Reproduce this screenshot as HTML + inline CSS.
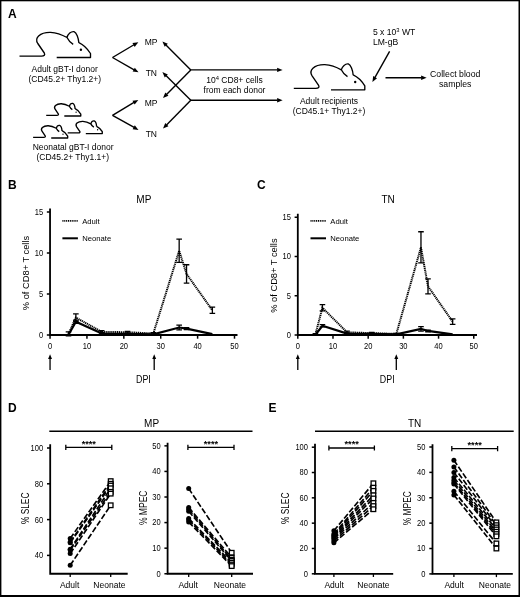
<!DOCTYPE html>
<html><head><meta charset="utf-8"><title>Figure</title>
<style>
html,body{margin:0;padding:0;background:#fff;}
body{width:520px;height:597px;overflow:hidden;}
svg{display:block;will-change:transform;font-family:"Liberation Sans",sans-serif;fill:#000;}
</style></head><body>
<svg width="520" height="597" viewBox="0 0 520 597">
<rect x="0" y="0" width="520" height="597" fill="#fff"/>

<rect x="0" y="0" width="520" height="1.3" fill="#000"/>
<rect x="0" y="0" width="1.4" height="597" fill="#000"/>
<rect x="518.5" y="0" width="1.5" height="597" fill="#000"/>
<rect x="0" y="595" width="520" height="2" fill="#000"/>
<text x="8.00" y="17.70" font-size="12.00" font-weight="bold">A</text>
<g transform="translate(19.50,56.10) scale(1.0000) translate(-19.5,-56.1)"><path d="M19.5,56.1 H41.5 C44.3,56.1 45.3,54.8 44.3,53 L37.8,43.5 C36.2,41 36.2,38.2 38.6,35.9 C41.5,33.3 46,32.3 50.5,32.4 C56,32.8 62,34.8 67,37.5 C68,34 71,31.2 74,31.6 C76.5,32.5 78.5,38 78.9,43 M67,37.5 C68.5,40.5 70.5,42.8 73.2,44.4 M78.9,42.6 C83,44.5 87,48 90.5,53.5 V57.5 H56.7" fill="none" stroke="#000" stroke-width="1.35" stroke-linejoin="round" stroke-linecap="butt"/><circle cx="80.9" cy="49.7" r="1.2" fill="#000"/></g>
<text x="64.70" y="72.00" font-size="8.50" text-anchor="middle">Adult gBT-I donor</text>
<text x="64.80" y="81.90" font-size="8.50" text-anchor="middle">(CD45.2+ Thy1.2+)</text>
<g transform="translate(46.20,115.30) scale(0.4870) translate(-19.5,-56.1)"><path d="M19.5,56.1 H41.5 C44.3,56.1 45.3,54.8 44.3,53 L37.8,43.5 C36.2,41 36.2,38.2 38.6,35.9 C41.5,33.3 46,32.3 50.5,32.4 C56,32.8 62,34.8 67,37.5 C68,34 71,31.2 74,31.6 C76.5,32.5 78.5,38 78.9,43 M67,37.5 C68.5,40.5 70.5,42.8 73.2,44.4 M78.9,42.6 C83,44.5 87,48 90.5,53.5 V57.5 H56.7" fill="none" stroke="#000" stroke-width="2.77" stroke-linejoin="round" stroke-linecap="butt"/><circle cx="80.9" cy="49.7" r="1.4" fill="#000"/></g>
<g transform="translate(33.10,137.30) scale(0.4870) translate(-19.5,-56.1)"><path d="M19.5,56.1 H41.5 C44.3,56.1 45.3,54.8 44.3,53 L37.8,43.5 C36.2,41 36.2,38.2 38.6,35.9 C41.5,33.3 46,32.3 50.5,32.4 C56,32.8 62,34.8 67,37.5 C68,34 71,31.2 74,31.6 C76.5,32.5 78.5,38 78.9,43 M67,37.5 C68.5,40.5 70.5,42.8 73.2,44.4 M78.9,42.6 C83,44.5 87,48 90.5,53.5 V57.5 H56.7" fill="none" stroke="#000" stroke-width="2.77" stroke-linejoin="round" stroke-linecap="butt"/><circle cx="80.9" cy="49.7" r="1.4" fill="#000"/></g>
<g transform="translate(67.70,132.90) scale(0.4870) translate(-19.5,-56.1)"><path d="M19.5,56.1 H41.5 C44.3,56.1 45.3,54.8 44.3,53 L37.8,43.5 C36.2,41 36.2,38.2 38.6,35.9 C41.5,33.3 46,32.3 50.5,32.4 C56,32.8 62,34.8 67,37.5 C68,34 71,31.2 74,31.6 C76.5,32.5 78.5,38 78.9,43 M67,37.5 C68.5,40.5 70.5,42.8 73.2,44.4 M78.9,42.6 C83,44.5 87,48 90.5,53.5 V57.5 H56.7" fill="none" stroke="#000" stroke-width="2.77" stroke-linejoin="round" stroke-linecap="butt"/><circle cx="80.9" cy="49.7" r="1.4" fill="#000"/></g>
<text x="73.10" y="150.00" font-size="8.50" text-anchor="middle">Neonatal gBT-I donor</text>
<text x="72.80" y="160.00" font-size="8.50" text-anchor="middle">(CD45.2+ Thy1.1+)</text>
<line x1="112.50" y1="57.50" x2="134.00" y2="44.75" stroke="#000" stroke-width="1.40"/><polygon points="138.30,42.20 134.69,46.90 132.45,43.11" fill="#000"/>
<line x1="112.50" y1="57.50" x2="134.15" y2="69.83" stroke="#000" stroke-width="1.40"/><polygon points="138.50,72.30 132.63,71.49 134.81,67.67" fill="#000"/>
<line x1="112.50" y1="115.30" x2="134.01" y2="102.46" stroke="#000" stroke-width="1.40"/><polygon points="138.30,99.90 134.70,104.61 132.45,100.83" fill="#000"/>
<line x1="112.50" y1="115.30" x2="134.14" y2="127.45" stroke="#000" stroke-width="1.40"/><polygon points="138.50,129.90 132.63,129.13 134.78,125.29" fill="#000"/>
<text x="151.00" y="45.20" font-size="8.50" text-anchor="middle">MP</text>
<text x="151.30" y="75.70" font-size="8.50" text-anchor="middle">TN</text>
<text x="151.00" y="105.60" font-size="8.50" text-anchor="middle">MP</text>
<text x="151.30" y="136.50" font-size="8.50" text-anchor="middle">TN</text>
<line x1="190.80" y1="69.90" x2="165.93" y2="44.94" stroke="#000" stroke-width="1.40"/><polygon points="162.40,41.40 167.84,43.74 164.72,46.85" fill="#000"/>
<line x1="190.80" y1="69.90" x2="166.52" y2="94.45" stroke="#000" stroke-width="1.40"/><polygon points="163.00,98.00 165.30,92.54 168.43,95.64" fill="#000"/>
<line x1="190.80" y1="100.30" x2="165.95" y2="75.62" stroke="#000" stroke-width="1.40"/><polygon points="162.40,72.10 167.85,74.41 164.75,77.54" fill="#000"/>
<line x1="190.80" y1="100.30" x2="166.51" y2="124.94" stroke="#000" stroke-width="1.40"/><polygon points="163.00,128.50 165.29,123.04 168.43,126.13" fill="#000"/>
<line x1="190.30" y1="69.90" x2="277.60" y2="69.90" stroke="#000" stroke-width="1.40"/><polygon points="282.60,69.90 277.10,72.10 277.10,67.70" fill="#000"/>
<line x1="190.30" y1="100.30" x2="277.60" y2="100.30" stroke="#000" stroke-width="1.40"/><polygon points="282.60,100.30 277.10,102.50 277.10,98.10" fill="#000"/>
<text x="234.50" y="83.20" font-size="8.50" text-anchor="middle">10<tspan font-size="5.8" dy="-3.2">4</tspan><tspan dy="3.2"> CD8+ cells</tspan></text>
<text x="234.50" y="93.40" font-size="8.50" text-anchor="middle">from each donor</text>
<g transform="translate(293.80,88.40) scale(1.0000) translate(-19.5,-56.1)"><path d="M19.5,56.1 H41.5 C44.3,56.1 45.3,54.8 44.3,53 L37.8,43.5 C36.2,41 36.2,38.2 38.6,35.9 C41.5,33.3 46,32.3 50.5,32.4 C56,32.8 62,34.8 67,37.5 C68,34 71,31.2 74,31.6 C76.5,32.5 78.5,38 78.9,43 M67,37.5 C68.5,40.5 70.5,42.8 73.2,44.4 M78.9,42.6 C83,44.5 87,48 90.5,53.5 V57.5 H56.7" fill="none" stroke="#000" stroke-width="1.35" stroke-linejoin="round" stroke-linecap="butt"/><circle cx="80.9" cy="49.7" r="1.2" fill="#000"/></g>
<text x="329.00" y="104.40" font-size="8.50" text-anchor="middle">Adult recipients</text>
<text x="329.00" y="114.40" font-size="8.50" text-anchor="middle">(CD45.1+ Thy1.2+)</text>
<text x="372.90" y="34.80" font-size="8.60">5 x 10<tspan font-size="5.8" dy="-3.2">3</tspan><tspan dy="3.2"> WT</tspan></text>
<text x="372.90" y="44.80" font-size="8.60">LM-gB</text>
<line x1="389.60" y1="51.40" x2="374.86" y2="77.54" stroke="#000" stroke-width="1.40"/><polygon points="372.40,81.90 373.19,76.03 377.02,78.19" fill="#000"/>
<line x1="385.50" y1="77.70" x2="421.60" y2="77.70" stroke="#000" stroke-width="1.40"/><polygon points="426.60,77.70 421.10,79.90 421.10,75.50" fill="#000"/>
<text x="455.20" y="76.50" font-size="8.70" text-anchor="middle">Collect blood</text>
<text x="455.20" y="86.50" font-size="8.70" text-anchor="middle">samples</text>
<text x="8.00" y="188.70" font-size="12.00" font-weight="bold">B</text>
<text x="143.80" y="202.90" font-size="10.00" text-anchor="middle">MP</text>
<path d="M50.05,208.60 V335.00 H237.50" fill="none" stroke="#000" stroke-width="1.8"/>
<line x1="46.85" y1="335.00" x2="50.05" y2="335.00" stroke="#000" stroke-width="1.5"/>
<text x="43.15" y="337.90" font-size="8.50" text-anchor="end" textLength="4.20" lengthAdjust="spacingAndGlyphs">0</text>
<line x1="46.85" y1="294.00" x2="50.05" y2="294.00" stroke="#000" stroke-width="1.5"/>
<text x="43.15" y="296.90" font-size="8.50" text-anchor="end" textLength="4.20" lengthAdjust="spacingAndGlyphs">5</text>
<line x1="46.85" y1="253.00" x2="50.05" y2="253.00" stroke="#000" stroke-width="1.5"/>
<text x="43.15" y="255.90" font-size="8.50" text-anchor="end" textLength="8.40" lengthAdjust="spacingAndGlyphs">10</text>
<line x1="46.85" y1="212.00" x2="50.05" y2="212.00" stroke="#000" stroke-width="1.5"/>
<text x="43.15" y="214.90" font-size="8.50" text-anchor="end" textLength="8.40" lengthAdjust="spacingAndGlyphs">15</text>
<line x1="50.05" y1="335.00" x2="50.05" y2="338.70" stroke="#000" stroke-width="1.5"/>
<text x="50.05" y="348.70" font-size="8.50" text-anchor="middle" textLength="4.20" lengthAdjust="spacingAndGlyphs">0</text>
<line x1="86.94" y1="335.00" x2="86.94" y2="338.70" stroke="#000" stroke-width="1.5"/>
<text x="86.94" y="348.70" font-size="8.50" text-anchor="middle" textLength="8.40" lengthAdjust="spacingAndGlyphs">10</text>
<line x1="123.83" y1="335.00" x2="123.83" y2="338.70" stroke="#000" stroke-width="1.5"/>
<text x="123.83" y="348.70" font-size="8.50" text-anchor="middle" textLength="8.40" lengthAdjust="spacingAndGlyphs">20</text>
<line x1="160.72" y1="335.00" x2="160.72" y2="338.70" stroke="#000" stroke-width="1.5"/>
<text x="160.72" y="348.70" font-size="8.50" text-anchor="middle" textLength="8.40" lengthAdjust="spacingAndGlyphs">30</text>
<line x1="197.61" y1="335.00" x2="197.61" y2="338.70" stroke="#000" stroke-width="1.5"/>
<text x="197.61" y="348.70" font-size="8.50" text-anchor="middle" textLength="8.40" lengthAdjust="spacingAndGlyphs">40</text>
<line x1="234.50" y1="335.00" x2="234.50" y2="338.70" stroke="#000" stroke-width="1.5"/>
<text x="234.50" y="348.70" font-size="8.50" text-anchor="middle" textLength="8.40" lengthAdjust="spacingAndGlyphs">50</text>
<text transform="translate(28.50,273.00) rotate(-90)" text-anchor="middle" font-size="9.90" textLength="74.30" lengthAdjust="spacingAndGlyphs">% of CD8+ T cells</text>
<line x1="62.40" y1="220.8" x2="77.90" y2="220.8" stroke="#000" stroke-width="1.8" stroke-dasharray="1.1,0.75"/>
<line x1="62.40" y1="238.3" x2="77.90" y2="238.3" stroke="#000" stroke-width="2.0"/>
<text x="82.20" y="223.50" font-size="7.70">Adult</text>
<text x="82.20" y="240.80" font-size="7.70">Neonate</text>
<polyline points="68.50,333.88 75.87,317.58 101.70,331.85 127.52,332.25 153.34,333.48 179.17,250.75 186.54,273.98 212.37,310.25" fill="none" stroke="#000" stroke-width="2.0" stroke-linejoin="miter" stroke-dasharray="1.2,0.7"/>
<path d="M68.50,331.85 V335.92 M65.70,331.85 H71.30 M65.70,335.92 H71.30" stroke="#000" stroke-width="1.3" fill="none"/>
<path d="M75.87,313.92 V321.25 M73.07,313.92 H78.67 M73.07,321.25 H78.67" stroke="#000" stroke-width="1.3" fill="none"/>
<path d="M101.70,330.62 V333.07 M98.90,330.62 H104.50 M98.90,333.07 H104.50" stroke="#000" stroke-width="1.3" fill="none"/>
<path d="M127.52,331.28 V333.23 M124.72,331.28 H130.32 M124.72,333.23 H130.32" stroke="#000" stroke-width="1.3" fill="none"/>
<path d="M153.34,332.66 V334.29 M150.54,332.66 H156.14 M150.54,334.29 H156.14" stroke="#000" stroke-width="1.3" fill="none"/>
<path d="M179.17,239.10 V262.41 M176.37,239.10 H181.97 M176.37,262.41 H181.97" stroke="#000" stroke-width="1.3" fill="none"/>
<path d="M186.54,264.77 V283.19 M183.74,264.77 H189.34 M183.74,283.19 H189.34" stroke="#000" stroke-width="1.3" fill="none"/>
<path d="M212.37,307.15 V313.35 M209.57,307.15 H215.17 M209.57,313.35 H215.17" stroke="#000" stroke-width="1.3" fill="none"/>
<polyline points="68.50,334.70 75.87,321.66 101.70,333.48 127.52,333.88 153.34,334.29 179.17,327.53 186.54,328.59 212.37,334.05" fill="none" stroke="#000" stroke-width="2.2" stroke-linejoin="miter"/>
<path d="M75.87,320.03 V323.29 M73.07,320.03 H78.67 M73.07,323.29 H78.67" stroke="#000" stroke-width="1.3" fill="none"/>
<path d="M101.70,332.66 V334.29 M98.90,332.66 H104.50 M98.90,334.29 H104.50" stroke="#000" stroke-width="1.3" fill="none"/>
<path d="M127.52,333.23 V334.54 M124.72,333.23 H130.32 M124.72,334.54 H130.32" stroke="#000" stroke-width="1.3" fill="none"/>
<path d="M179.17,325.08 V329.97 M176.37,325.08 H181.97 M176.37,329.97 H181.97" stroke="#000" stroke-width="1.3" fill="none"/>
<path d="M186.54,327.61 V329.57 M183.74,327.61 H189.34 M183.74,329.57 H189.34" stroke="#000" stroke-width="1.3" fill="none"/>
<line x1="50.05" y1="369.90" x2="50.05" y2="358.50" stroke="#000" stroke-width="1.30"/><polygon points="50.05,354.20 52.00,359.00 48.10,359.00" fill="#000"/>
<line x1="154.20" y1="369.90" x2="154.20" y2="358.50" stroke="#000" stroke-width="1.30"/><polygon points="154.20,354.20 156.15,359.00 152.25,359.00" fill="#000"/>
<text x="143.40" y="382.70" font-size="10.00" text-anchor="middle" textLength="14.80" lengthAdjust="spacingAndGlyphs">DPI</text>
<text x="257.00" y="188.70" font-size="12.00" font-weight="bold">C</text>
<text x="388.10" y="202.90" font-size="10.00" text-anchor="middle">TN</text>
<path d="M297.80,213.80 V335.00 H477.00" fill="none" stroke="#000" stroke-width="1.8"/>
<line x1="294.60" y1="335.00" x2="297.80" y2="335.00" stroke="#000" stroke-width="1.5"/>
<text x="290.90" y="337.90" font-size="8.50" text-anchor="end" textLength="4.20" lengthAdjust="spacingAndGlyphs">0</text>
<line x1="294.60" y1="295.75" x2="297.80" y2="295.75" stroke="#000" stroke-width="1.5"/>
<text x="290.90" y="298.65" font-size="8.50" text-anchor="end" textLength="4.20" lengthAdjust="spacingAndGlyphs">5</text>
<line x1="294.60" y1="256.50" x2="297.80" y2="256.50" stroke="#000" stroke-width="1.5"/>
<text x="290.90" y="259.40" font-size="8.50" text-anchor="end" textLength="8.40" lengthAdjust="spacingAndGlyphs">10</text>
<line x1="294.60" y1="217.25" x2="297.80" y2="217.25" stroke="#000" stroke-width="1.5"/>
<text x="290.90" y="220.15" font-size="8.50" text-anchor="end" textLength="8.40" lengthAdjust="spacingAndGlyphs">15</text>
<line x1="297.80" y1="335.00" x2="297.80" y2="338.70" stroke="#000" stroke-width="1.5"/>
<text x="297.80" y="348.70" font-size="8.50" text-anchor="middle" textLength="4.20" lengthAdjust="spacingAndGlyphs">0</text>
<line x1="332.99" y1="335.00" x2="332.99" y2="338.70" stroke="#000" stroke-width="1.5"/>
<text x="332.99" y="348.70" font-size="8.50" text-anchor="middle" textLength="8.40" lengthAdjust="spacingAndGlyphs">10</text>
<line x1="368.18" y1="335.00" x2="368.18" y2="338.70" stroke="#000" stroke-width="1.5"/>
<text x="368.18" y="348.70" font-size="8.50" text-anchor="middle" textLength="8.40" lengthAdjust="spacingAndGlyphs">20</text>
<line x1="403.37" y1="335.00" x2="403.37" y2="338.70" stroke="#000" stroke-width="1.5"/>
<text x="403.37" y="348.70" font-size="8.50" text-anchor="middle" textLength="8.40" lengthAdjust="spacingAndGlyphs">30</text>
<line x1="438.56" y1="335.00" x2="438.56" y2="338.70" stroke="#000" stroke-width="1.5"/>
<text x="438.56" y="348.70" font-size="8.50" text-anchor="middle" textLength="8.40" lengthAdjust="spacingAndGlyphs">40</text>
<line x1="473.75" y1="335.00" x2="473.75" y2="338.70" stroke="#000" stroke-width="1.5"/>
<text x="473.75" y="348.70" font-size="8.50" text-anchor="middle" textLength="8.40" lengthAdjust="spacingAndGlyphs">50</text>
<text transform="translate(276.80,275.60) rotate(-90)" text-anchor="middle" font-size="9.90" textLength="74.30" lengthAdjust="spacingAndGlyphs">% of CD8+ T cells</text>
<line x1="310.50" y1="220.8" x2="326.00" y2="220.8" stroke="#000" stroke-width="1.8" stroke-dasharray="1.1,0.75"/>
<line x1="310.50" y1="238.3" x2="326.00" y2="238.3" stroke="#000" stroke-width="2.0"/>
<text x="330.30" y="223.50" font-size="7.70">Adult</text>
<text x="330.30" y="240.80" font-size="7.70">Neonate</text>
<polyline points="315.39,334.31 322.43,307.79 347.07,332.36 371.70,333.14 396.33,333.92 420.97,247.34 428.00,286.34 452.64,321.67" fill="none" stroke="#000" stroke-width="2.0" stroke-linejoin="miter" stroke-dasharray="1.2,0.7"/>
<path d="M315.39,333.53 V335.09 M312.59,333.53 H318.19 M312.59,335.09 H318.19" stroke="#000" stroke-width="1.3" fill="none"/>
<path d="M322.43,304.67 V310.91 M319.63,304.67 H325.23 M319.63,310.91 H325.23" stroke="#000" stroke-width="1.3" fill="none"/>
<path d="M347.07,331.19 V333.53 M344.27,331.19 H349.87 M344.27,333.53 H349.87" stroke="#000" stroke-width="1.3" fill="none"/>
<path d="M371.70,332.36 V333.92 M368.90,332.36 H374.50 M368.90,333.92 H374.50" stroke="#000" stroke-width="1.3" fill="none"/>
<path d="M396.33,333.30 V334.54 M393.53,333.30 H399.13 M393.53,334.54 H399.13" stroke="#000" stroke-width="1.3" fill="none"/>
<path d="M420.97,231.74 V262.94 M418.17,231.74 H423.77 M418.17,262.94 H423.77" stroke="#000" stroke-width="1.3" fill="none"/>
<path d="M428.00,278.85 V293.83 M425.20,278.85 H430.80 M425.20,293.83 H430.80" stroke="#000" stroke-width="1.3" fill="none"/>
<path d="M452.64,318.94 V324.40 M449.84,318.94 H455.44 M449.84,324.40 H455.44" stroke="#000" stroke-width="1.3" fill="none"/>
<polyline points="315.39,334.70 322.43,325.73 347.07,333.53 371.70,333.92 396.33,334.31 420.97,328.85 428.00,330.96 452.64,334.31" fill="none" stroke="#000" stroke-width="2.2" stroke-linejoin="miter"/>
<path d="M322.43,324.56 V326.90 M319.63,324.56 H325.23 M319.63,326.90 H325.23" stroke="#000" stroke-width="1.3" fill="none"/>
<path d="M347.07,332.91 V334.15 M344.27,332.91 H349.87 M344.27,334.15 H349.87" stroke="#000" stroke-width="1.3" fill="none"/>
<path d="M371.70,333.45 V334.39 M368.90,333.45 H374.50 M368.90,334.39 H374.50" stroke="#000" stroke-width="1.3" fill="none"/>
<path d="M420.97,326.67 V331.03 M418.17,326.67 H423.77 M418.17,331.03 H423.77" stroke="#000" stroke-width="1.3" fill="none"/>
<path d="M428.00,330.18 V331.74 M425.20,330.18 H430.80 M425.20,331.74 H430.80" stroke="#000" stroke-width="1.3" fill="none"/>
<line x1="297.80" y1="369.90" x2="297.80" y2="358.50" stroke="#000" stroke-width="1.30"/><polygon points="297.80,354.20 299.75,359.00 295.85,359.00" fill="#000"/>
<line x1="396.30" y1="369.90" x2="396.30" y2="358.50" stroke="#000" stroke-width="1.30"/><polygon points="396.30,354.20 398.25,359.00 394.35,359.00" fill="#000"/>
<text x="387.20" y="382.70" font-size="10.00" text-anchor="middle" textLength="14.80" lengthAdjust="spacingAndGlyphs">DPI</text>
<text x="8.00" y="411.90" font-size="12.00" font-weight="bold">D</text>
<line x1="49.3" y1="431.2" x2="252.5" y2="431.2" stroke="#000" stroke-width="1.4"/>
<text x="151.60" y="426.80" font-size="10.00" text-anchor="middle">MP</text>
<path d="M50.20,444.30 V573.75 H127.70" fill="none" stroke="#000" stroke-width="1.8"/>
<line x1="47.00" y1="555.40" x2="50.20" y2="555.40" stroke="#000" stroke-width="1.5"/>
<text x="43.20" y="558.30" font-size="8.50" text-anchor="end" textLength="8.40" lengthAdjust="spacingAndGlyphs">40</text>
<line x1="47.00" y1="519.60" x2="50.20" y2="519.60" stroke="#000" stroke-width="1.5"/>
<text x="43.20" y="522.50" font-size="8.50" text-anchor="end" textLength="8.40" lengthAdjust="spacingAndGlyphs">60</text>
<line x1="47.00" y1="483.80" x2="50.20" y2="483.80" stroke="#000" stroke-width="1.5"/>
<text x="43.20" y="486.70" font-size="8.50" text-anchor="end" textLength="8.40" lengthAdjust="spacingAndGlyphs">80</text>
<line x1="47.00" y1="448.00" x2="50.20" y2="448.00" stroke="#000" stroke-width="1.5"/>
<text x="43.20" y="450.90" font-size="8.50" text-anchor="end" textLength="12.60" lengthAdjust="spacingAndGlyphs">100</text>
<line x1="70.20" y1="573.75" x2="70.20" y2="576.95" stroke="#000" stroke-width="1.3"/>
<line x1="110.70" y1="573.75" x2="110.70" y2="576.95" stroke="#000" stroke-width="1.3"/>
<text x="69.60" y="587.80" font-size="8.50" text-anchor="middle">Adult</text>
<text x="109.40" y="587.80" font-size="8.50" text-anchor="middle">Neonate</text>
<text transform="translate(28.80,508.30) rotate(-90)" text-anchor="middle" font-size="10.00" textLength="31.40" lengthAdjust="spacingAndGlyphs">% SLEC</text>
<path d="M65.80,447.30 H111.80 M65.80,444.70 V449.90 M111.80,444.70 V449.90" stroke="#000" stroke-width="1.3" fill="none"/>
<text x="88.80" y="446.50" font-size="9.20" text-anchor="middle" font-weight="bold">****</text>
<line x1="70.20" y1="538.40" x2="110.70" y2="481.12" stroke="#000" stroke-width="1.65" stroke-dasharray="5.8,2.2"/>
<line x1="70.20" y1="541.98" x2="110.70" y2="483.80" stroke="#000" stroke-width="1.65" stroke-dasharray="5.8,2.2"/>
<line x1="70.20" y1="542.87" x2="110.70" y2="485.59" stroke="#000" stroke-width="1.65" stroke-dasharray="5.8,2.2"/>
<line x1="70.20" y1="549.14" x2="110.70" y2="488.28" stroke="#000" stroke-width="1.65" stroke-dasharray="5.8,2.2"/>
<line x1="70.20" y1="550.03" x2="110.70" y2="491.86" stroke="#000" stroke-width="1.65" stroke-dasharray="5.8,2.2"/>
<line x1="70.20" y1="553.61" x2="110.70" y2="493.65" stroke="#000" stroke-width="1.65" stroke-dasharray="5.8,2.2"/>
<line x1="70.20" y1="565.25" x2="110.70" y2="505.28" stroke="#000" stroke-width="1.65" stroke-dasharray="5.8,2.2"/>
<circle cx="70.20" cy="538.40" r="2.5" fill="#000"/>
<circle cx="70.20" cy="541.98" r="2.5" fill="#000"/>
<circle cx="70.20" cy="542.87" r="2.5" fill="#000"/>
<circle cx="70.20" cy="549.14" r="2.5" fill="#000"/>
<circle cx="70.20" cy="550.03" r="2.5" fill="#000"/>
<circle cx="70.20" cy="553.61" r="2.5" fill="#000"/>
<circle cx="70.20" cy="565.25" r="2.5" fill="#000"/>
<rect x="108.40" y="478.82" width="4.6" height="4.6" fill="#fff" stroke="#000" stroke-width="1.3"/>
<rect x="108.40" y="481.50" width="4.6" height="4.6" fill="#fff" stroke="#000" stroke-width="1.3"/>
<rect x="108.40" y="483.29" width="4.6" height="4.6" fill="#fff" stroke="#000" stroke-width="1.3"/>
<rect x="108.40" y="485.98" width="4.6" height="4.6" fill="#fff" stroke="#000" stroke-width="1.3"/>
<rect x="108.40" y="489.56" width="4.6" height="4.6" fill="#fff" stroke="#000" stroke-width="1.3"/>
<rect x="108.40" y="491.35" width="4.6" height="4.6" fill="#fff" stroke="#000" stroke-width="1.3"/>
<rect x="108.40" y="502.98" width="4.6" height="4.6" fill="#fff" stroke="#000" stroke-width="1.3"/>
<path d="M167.60,442.80 V573.75 H253.00" fill="none" stroke="#000" stroke-width="1.8"/>
<line x1="164.40" y1="573.75" x2="167.60" y2="573.75" stroke="#000" stroke-width="1.5"/>
<text x="160.60" y="576.65" font-size="8.50" text-anchor="end" textLength="4.20" lengthAdjust="spacingAndGlyphs">0</text>
<line x1="164.40" y1="548.17" x2="167.60" y2="548.17" stroke="#000" stroke-width="1.5"/>
<text x="160.60" y="551.07" font-size="8.50" text-anchor="end" textLength="8.40" lengthAdjust="spacingAndGlyphs">10</text>
<line x1="164.40" y1="522.59" x2="167.60" y2="522.59" stroke="#000" stroke-width="1.5"/>
<text x="160.60" y="525.49" font-size="8.50" text-anchor="end" textLength="8.40" lengthAdjust="spacingAndGlyphs">20</text>
<line x1="164.40" y1="497.01" x2="167.60" y2="497.01" stroke="#000" stroke-width="1.5"/>
<text x="160.60" y="499.91" font-size="8.50" text-anchor="end" textLength="8.40" lengthAdjust="spacingAndGlyphs">30</text>
<line x1="164.40" y1="471.43" x2="167.60" y2="471.43" stroke="#000" stroke-width="1.5"/>
<text x="160.60" y="474.33" font-size="8.50" text-anchor="end" textLength="8.40" lengthAdjust="spacingAndGlyphs">40</text>
<line x1="164.40" y1="445.85" x2="167.60" y2="445.85" stroke="#000" stroke-width="1.5"/>
<text x="160.60" y="448.75" font-size="8.50" text-anchor="end" textLength="8.40" lengthAdjust="spacingAndGlyphs">50</text>
<line x1="188.70" y1="573.75" x2="188.70" y2="576.95" stroke="#000" stroke-width="1.3"/>
<line x1="231.70" y1="573.75" x2="231.70" y2="576.95" stroke="#000" stroke-width="1.3"/>
<text x="188.10" y="587.80" font-size="8.50" text-anchor="middle">Adult</text>
<text x="229.90" y="587.80" font-size="8.50" text-anchor="middle">Neonate</text>
<text transform="translate(147.00,507.80) rotate(-90)" text-anchor="middle" font-size="10.00" textLength="34.60" lengthAdjust="spacingAndGlyphs">% MPEC</text>
<path d="M187.90,447.30 H234.00 M187.90,444.70 V449.90 M234.00,444.70 V449.90" stroke="#000" stroke-width="1.3" fill="none"/>
<text x="210.95" y="446.50" font-size="9.20" text-anchor="middle" font-weight="bold">****</text>
<line x1="188.70" y1="488.57" x2="231.70" y2="552.77" stroke="#000" stroke-width="1.65" stroke-dasharray="5.8,2.2"/>
<line x1="188.70" y1="507.50" x2="231.70" y2="557.63" stroke="#000" stroke-width="1.65" stroke-dasharray="5.8,2.2"/>
<line x1="188.70" y1="509.29" x2="231.70" y2="559.68" stroke="#000" stroke-width="1.65" stroke-dasharray="5.8,2.2"/>
<line x1="188.70" y1="511.33" x2="231.70" y2="560.96" stroke="#000" stroke-width="1.65" stroke-dasharray="5.8,2.2"/>
<line x1="188.70" y1="518.50" x2="231.70" y2="562.75" stroke="#000" stroke-width="1.65" stroke-dasharray="5.8,2.2"/>
<line x1="188.70" y1="520.03" x2="231.70" y2="564.54" stroke="#000" stroke-width="1.65" stroke-dasharray="5.8,2.2"/>
<line x1="188.70" y1="522.08" x2="231.70" y2="566.08" stroke="#000" stroke-width="1.65" stroke-dasharray="5.8,2.2"/>
<circle cx="188.70" cy="488.57" r="2.5" fill="#000"/>
<circle cx="188.70" cy="507.50" r="2.5" fill="#000"/>
<circle cx="188.70" cy="509.29" r="2.5" fill="#000"/>
<circle cx="188.70" cy="511.33" r="2.5" fill="#000"/>
<circle cx="188.70" cy="518.50" r="2.5" fill="#000"/>
<circle cx="188.70" cy="520.03" r="2.5" fill="#000"/>
<circle cx="188.70" cy="522.08" r="2.5" fill="#000"/>
<rect x="229.40" y="550.47" width="4.6" height="4.6" fill="#fff" stroke="#000" stroke-width="1.3"/>
<rect x="229.40" y="555.33" width="4.6" height="4.6" fill="#fff" stroke="#000" stroke-width="1.3"/>
<rect x="229.40" y="557.38" width="4.6" height="4.6" fill="#fff" stroke="#000" stroke-width="1.3"/>
<rect x="229.40" y="558.66" width="4.6" height="4.6" fill="#fff" stroke="#000" stroke-width="1.3"/>
<rect x="229.40" y="560.45" width="4.6" height="4.6" fill="#fff" stroke="#000" stroke-width="1.3"/>
<rect x="229.40" y="562.24" width="4.6" height="4.6" fill="#fff" stroke="#000" stroke-width="1.3"/>
<rect x="229.40" y="563.78" width="4.6" height="4.6" fill="#fff" stroke="#000" stroke-width="1.3"/>
<text x="268.60" y="411.90" font-size="12.00" font-weight="bold">E</text>
<line x1="315" y1="431.2" x2="513.7" y2="431.2" stroke="#000" stroke-width="1.4"/>
<text x="414.60" y="426.80" font-size="10.00" text-anchor="middle">TN</text>
<path d="M315.00,443.70 V573.80 H393.20" fill="none" stroke="#000" stroke-width="1.8"/>
<line x1="311.80" y1="573.80" x2="315.00" y2="573.80" stroke="#000" stroke-width="1.5"/>
<text x="308.00" y="576.70" font-size="8.50" text-anchor="end" textLength="4.20" lengthAdjust="spacingAndGlyphs">0</text>
<line x1="311.80" y1="548.48" x2="315.00" y2="548.48" stroke="#000" stroke-width="1.5"/>
<text x="308.00" y="551.38" font-size="8.50" text-anchor="end" textLength="8.40" lengthAdjust="spacingAndGlyphs">20</text>
<line x1="311.80" y1="523.16" x2="315.00" y2="523.16" stroke="#000" stroke-width="1.5"/>
<text x="308.00" y="526.06" font-size="8.50" text-anchor="end" textLength="8.40" lengthAdjust="spacingAndGlyphs">40</text>
<line x1="311.80" y1="497.84" x2="315.00" y2="497.84" stroke="#000" stroke-width="1.5"/>
<text x="308.00" y="500.74" font-size="8.50" text-anchor="end" textLength="8.40" lengthAdjust="spacingAndGlyphs">60</text>
<line x1="311.80" y1="472.52" x2="315.00" y2="472.52" stroke="#000" stroke-width="1.5"/>
<text x="308.00" y="475.42" font-size="8.50" text-anchor="end" textLength="8.40" lengthAdjust="spacingAndGlyphs">80</text>
<line x1="311.80" y1="447.20" x2="315.00" y2="447.20" stroke="#000" stroke-width="1.5"/>
<text x="308.00" y="450.10" font-size="8.50" text-anchor="end" textLength="12.60" lengthAdjust="spacingAndGlyphs">100</text>
<line x1="333.90" y1="573.80" x2="333.90" y2="577.00" stroke="#000" stroke-width="1.3"/>
<line x1="373.40" y1="573.80" x2="373.40" y2="577.00" stroke="#000" stroke-width="1.3"/>
<text x="334.10" y="587.80" font-size="8.50" text-anchor="middle">Adult</text>
<text x="373.40" y="587.80" font-size="8.50" text-anchor="middle">Neonate</text>
<text transform="translate(288.80,508.30) rotate(-90)" text-anchor="middle" font-size="10.00" textLength="31.40" lengthAdjust="spacingAndGlyphs">% SLEC</text>
<path d="M328.90,448.00 H374.40 M328.90,445.40 V450.60 M374.40,445.40 V450.60" stroke="#000" stroke-width="1.3" fill="none"/>
<text x="351.65" y="447.20" font-size="9.20" text-anchor="middle" font-weight="bold">****</text>
<line x1="333.90" y1="530.76" x2="373.40" y2="483.28" stroke="#000" stroke-width="1.65" stroke-dasharray="5.8,2.2"/>
<line x1="333.90" y1="533.92" x2="373.40" y2="487.71" stroke="#000" stroke-width="1.65" stroke-dasharray="5.8,2.2"/>
<line x1="333.90" y1="535.19" x2="373.40" y2="490.88" stroke="#000" stroke-width="1.65" stroke-dasharray="5.8,2.2"/>
<line x1="333.90" y1="536.45" x2="373.40" y2="495.31" stroke="#000" stroke-width="1.65" stroke-dasharray="5.8,2.2"/>
<line x1="333.90" y1="537.72" x2="373.40" y2="498.47" stroke="#000" stroke-width="1.65" stroke-dasharray="5.8,2.2"/>
<line x1="333.90" y1="538.98" x2="373.40" y2="502.90" stroke="#000" stroke-width="1.65" stroke-dasharray="5.8,2.2"/>
<line x1="333.90" y1="540.88" x2="373.40" y2="506.07" stroke="#000" stroke-width="1.65" stroke-dasharray="5.8,2.2"/>
<line x1="333.90" y1="542.78" x2="373.40" y2="509.23" stroke="#000" stroke-width="1.65" stroke-dasharray="5.8,2.2"/>
<circle cx="333.90" cy="530.76" r="2.5" fill="#000"/>
<circle cx="333.90" cy="533.92" r="2.5" fill="#000"/>
<circle cx="333.90" cy="535.19" r="2.5" fill="#000"/>
<circle cx="333.90" cy="536.45" r="2.5" fill="#000"/>
<circle cx="333.90" cy="537.72" r="2.5" fill="#000"/>
<circle cx="333.90" cy="538.98" r="2.5" fill="#000"/>
<circle cx="333.90" cy="540.88" r="2.5" fill="#000"/>
<circle cx="333.90" cy="542.78" r="2.5" fill="#000"/>
<rect x="371.10" y="480.98" width="4.6" height="4.6" fill="#fff" stroke="#000" stroke-width="1.3"/>
<rect x="371.10" y="485.41" width="4.6" height="4.6" fill="#fff" stroke="#000" stroke-width="1.3"/>
<rect x="371.10" y="488.58" width="4.6" height="4.6" fill="#fff" stroke="#000" stroke-width="1.3"/>
<rect x="371.10" y="493.01" width="4.6" height="4.6" fill="#fff" stroke="#000" stroke-width="1.3"/>
<rect x="371.10" y="496.17" width="4.6" height="4.6" fill="#fff" stroke="#000" stroke-width="1.3"/>
<rect x="371.10" y="500.60" width="4.6" height="4.6" fill="#fff" stroke="#000" stroke-width="1.3"/>
<rect x="371.10" y="503.77" width="4.6" height="4.6" fill="#fff" stroke="#000" stroke-width="1.3"/>
<rect x="371.10" y="506.93" width="4.6" height="4.6" fill="#fff" stroke="#000" stroke-width="1.3"/>
<path d="M432.50,444.30 V573.90 H512.80" fill="none" stroke="#000" stroke-width="1.8"/>
<line x1="429.30" y1="573.90" x2="432.50" y2="573.90" stroke="#000" stroke-width="1.5"/>
<text x="425.50" y="576.80" font-size="8.50" text-anchor="end" textLength="4.20" lengthAdjust="spacingAndGlyphs">0</text>
<line x1="429.30" y1="548.52" x2="432.50" y2="548.52" stroke="#000" stroke-width="1.5"/>
<text x="425.50" y="551.42" font-size="8.50" text-anchor="end" textLength="8.40" lengthAdjust="spacingAndGlyphs">10</text>
<line x1="429.30" y1="523.14" x2="432.50" y2="523.14" stroke="#000" stroke-width="1.5"/>
<text x="425.50" y="526.04" font-size="8.50" text-anchor="end" textLength="8.40" lengthAdjust="spacingAndGlyphs">20</text>
<line x1="429.30" y1="497.76" x2="432.50" y2="497.76" stroke="#000" stroke-width="1.5"/>
<text x="425.50" y="500.66" font-size="8.50" text-anchor="end" textLength="8.40" lengthAdjust="spacingAndGlyphs">30</text>
<line x1="429.30" y1="472.38" x2="432.50" y2="472.38" stroke="#000" stroke-width="1.5"/>
<text x="425.50" y="475.28" font-size="8.50" text-anchor="end" textLength="8.40" lengthAdjust="spacingAndGlyphs">40</text>
<line x1="429.30" y1="447.00" x2="432.50" y2="447.00" stroke="#000" stroke-width="1.5"/>
<text x="425.50" y="449.90" font-size="8.50" text-anchor="end" textLength="8.40" lengthAdjust="spacingAndGlyphs">50</text>
<line x1="453.90" y1="573.90" x2="453.90" y2="577.10" stroke="#000" stroke-width="1.3"/>
<line x1="496.40" y1="573.90" x2="496.40" y2="577.10" stroke="#000" stroke-width="1.3"/>
<text x="454.10" y="587.80" font-size="8.50" text-anchor="middle">Adult</text>
<text x="494.90" y="587.80" font-size="8.50" text-anchor="middle">Neonate</text>
<text transform="translate(411.10,508.20) rotate(-90)" text-anchor="middle" font-size="10.00" textLength="34.20" lengthAdjust="spacingAndGlyphs">% MPEC</text>
<path d="M451.80,448.60 H497.60 M451.80,446.00 V451.20 M497.60,446.00 V451.20" stroke="#000" stroke-width="1.3" fill="none"/>
<text x="474.70" y="447.80" font-size="9.20" text-anchor="middle" font-weight="bold">****</text>
<line x1="453.90" y1="460.20" x2="496.40" y2="522.38" stroke="#000" stroke-width="1.65" stroke-dasharray="5.8,2.2"/>
<line x1="453.90" y1="467.05" x2="496.40" y2="525.17" stroke="#000" stroke-width="1.65" stroke-dasharray="5.8,2.2"/>
<line x1="453.90" y1="472.38" x2="496.40" y2="527.45" stroke="#000" stroke-width="1.65" stroke-dasharray="5.8,2.2"/>
<line x1="453.90" y1="477.46" x2="496.40" y2="529.49" stroke="#000" stroke-width="1.65" stroke-dasharray="5.8,2.2"/>
<line x1="453.90" y1="480.25" x2="496.40" y2="531.77" stroke="#000" stroke-width="1.65" stroke-dasharray="5.8,2.2"/>
<line x1="453.90" y1="482.53" x2="496.40" y2="534.05" stroke="#000" stroke-width="1.65" stroke-dasharray="5.8,2.2"/>
<line x1="453.90" y1="484.05" x2="496.40" y2="536.34" stroke="#000" stroke-width="1.65" stroke-dasharray="5.8,2.2"/>
<line x1="453.90" y1="491.16" x2="496.40" y2="543.44" stroke="#000" stroke-width="1.65" stroke-dasharray="5.8,2.2"/>
<line x1="453.90" y1="494.97" x2="496.40" y2="548.52" stroke="#000" stroke-width="1.65" stroke-dasharray="5.8,2.2"/>
<circle cx="453.90" cy="460.20" r="2.5" fill="#000"/>
<circle cx="453.90" cy="467.05" r="2.5" fill="#000"/>
<circle cx="453.90" cy="472.38" r="2.5" fill="#000"/>
<circle cx="453.90" cy="477.46" r="2.5" fill="#000"/>
<circle cx="453.90" cy="480.25" r="2.5" fill="#000"/>
<circle cx="453.90" cy="482.53" r="2.5" fill="#000"/>
<circle cx="453.90" cy="484.05" r="2.5" fill="#000"/>
<circle cx="453.90" cy="491.16" r="2.5" fill="#000"/>
<circle cx="453.90" cy="494.97" r="2.5" fill="#000"/>
<rect x="494.10" y="520.08" width="4.6" height="4.6" fill="#fff" stroke="#000" stroke-width="1.3"/>
<rect x="494.10" y="522.87" width="4.6" height="4.6" fill="#fff" stroke="#000" stroke-width="1.3"/>
<rect x="494.10" y="525.15" width="4.6" height="4.6" fill="#fff" stroke="#000" stroke-width="1.3"/>
<rect x="494.10" y="527.19" width="4.6" height="4.6" fill="#fff" stroke="#000" stroke-width="1.3"/>
<rect x="494.10" y="529.47" width="4.6" height="4.6" fill="#fff" stroke="#000" stroke-width="1.3"/>
<rect x="494.10" y="531.75" width="4.6" height="4.6" fill="#fff" stroke="#000" stroke-width="1.3"/>
<rect x="494.10" y="534.04" width="4.6" height="4.6" fill="#fff" stroke="#000" stroke-width="1.3"/>
<rect x="494.10" y="541.14" width="4.6" height="4.6" fill="#fff" stroke="#000" stroke-width="1.3"/>
<rect x="494.10" y="546.22" width="4.6" height="4.6" fill="#fff" stroke="#000" stroke-width="1.3"/>
</svg></body></html>
